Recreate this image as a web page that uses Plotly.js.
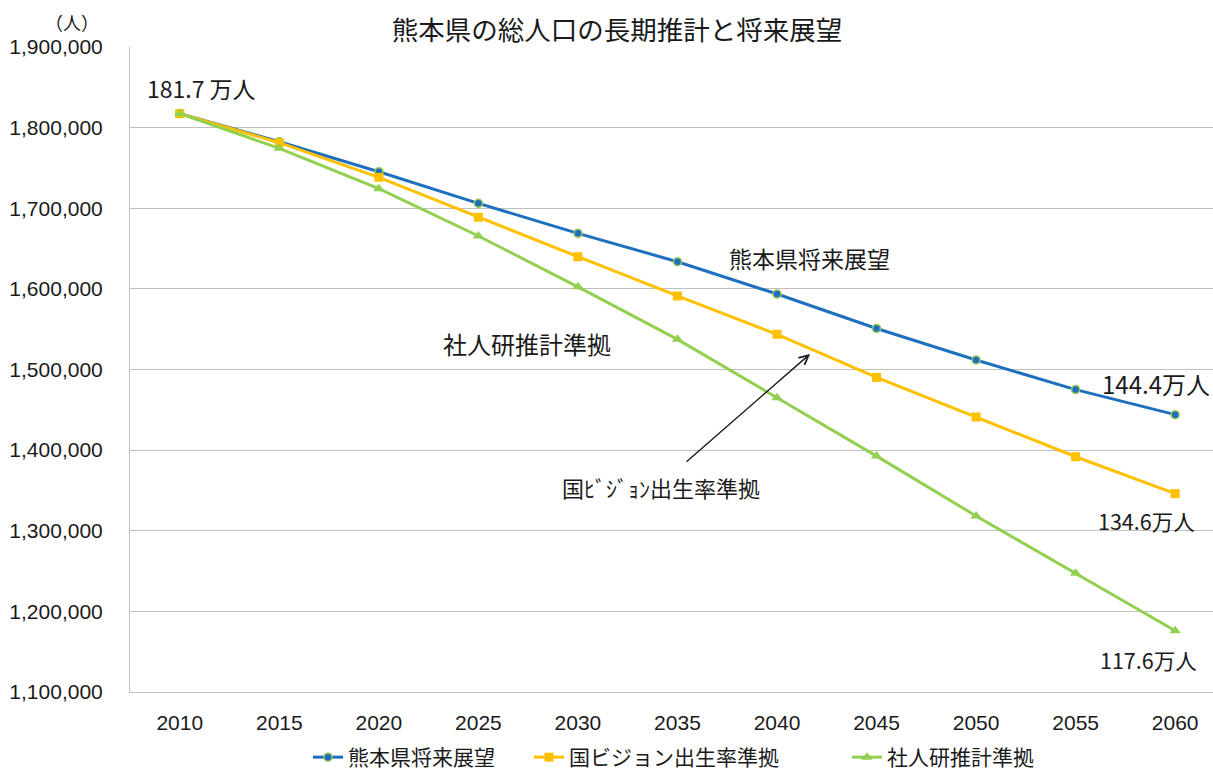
<!DOCTYPE html>
<html>
<head>
<meta charset="utf-8">
<script src="https://cdn.plot.ly/plotly-3.0.1.min.js"></script>
<style>html,body{margin:0;padding:0;background:#fff;}#chart{width:1213px;height:771px;}</style>
</head>
<body>
<div id="chart"></div>
<script>
// ---- data ----
const years = [2010, 2015, 2020, 2025, 2030, 2035, 2040, 2045, 2050, 2055, 2060];
const seriesNames = ["熊本県将来展望", "国ビジョン出生率準拠", "社人研推計準拠"];
const prefVision = [1817426, 1782500, 1745300, 1706100, 1668900, 1633700, 1593600, 1550900, 1511800, 1475100, 1444000];
const natVision = [1817426, 1781300, 1738400, 1688800, 1639900, 1591200, 1543600, 1490200, 1441100, 1391800, 1346000];
const ipssBased = [1817426, 1774300, 1724300, 1665600, 1602500, 1537400, 1465000, 1392600, 1318300, 1247200, 1176000];
const yTicks = [1100000, 1200000, 1300000, 1400000, 1500000, 1600000, 1700000, 1800000, 1900000];
const titleText = "熊本県の総人口の長期推計と将来展望";
const unitText = "（人）";
const startLabel = "181.7 万人";
const endLabels = ["144.4万人", "134.6万人", "117.6万人"];
const lineLabels = ["熊本県将来展望", "社人研推計準拠", "国ﾋﾞｼﾞｮﾝ出生率準拠"];

// ---- layout helpers (pixel -> paper) ----
const L = 130, T = 47, W = 1083, H = 645;
const px = x => (x - L) / W;
const py = y => (T + H - y) / H;
const FONT = "Liberation Sans, Noto Sans CJK JP, sans-serif";
const CJK = "Noto Sans CJK JP, Liberation Sans, sans-serif";
const TXT = "#1a1a1a";

const traces = [
  {x: years, y: prefVision, name: seriesNames[0], mode: "lines+markers", legend: "legend",
   line: {color: "#1f6fbf", width: 3},
   marker: {symbol: "circle", size: 8, color: "#1f6fbf", line: {color: "#9cc65a", width: 1.5}}},
  {x: years, y: natVision, name: seriesNames[1], mode: "lines+markers", legend: "legend2",
   line: {color: "#ffc000", width: 3},
   marker: {symbol: "square", size: 9, color: "#ffc000"}},
  {x: years, y: ipssBased, name: seriesNames[2], mode: "lines+markers", legend: "legend3",
   line: {color: "#92d050", width: 3},
   marker: {symbol: "triangle-up", size: 10, color: "#92d050"}}
];

const ann = (x, y, text, size, opts) => Object.assign({
  xref: "paper", yref: "paper", x: px(x), y: py(y), text: text, showarrow: false,
  xanchor: "center", yanchor: "middle", font: {family: CJK, size: size, color: TXT}
}, opts || {});

const leg = x => ({orientation: "h", x: px(x), xanchor: "left", y: py(737), yanchor: "top",
  font: {family: CJK, size: 21, color: TXT}, bgcolor: "rgba(0,0,0,0)", borderwidth: 0});

const layout = {
  width: 1213, height: 771,
  margin: {l: L, r: 0, t: T, b: 771 - T - H, pad: 0, autoexpand: false},
  paper_bgcolor: "#fff", plot_bgcolor: "#fff",
  title: {text: titleText, x: 617 / 1213, xanchor: "center", y: 1 - 31 / 771, yanchor: "middle",
          xref: "container", yref: "container",
          font: {family: CJK, size: 26.5, color: TXT}},
  xaxis: {range: [2007.5, 2061.9], tickvals: years, ticktext: years.map(String),
          showgrid: false, zeroline: false, showline: true, linecolor: "#bfbfbf", linewidth: 1,
          ticks: "", ticklabelstandoff: 12, fixedrange: true,
          tickfont: {family: FONT, size: 21, color: TXT}},
  yaxis: {range: [1100000, 1900000], tickvals: yTicks, tickformat: ",d",
          showgrid: true, gridcolor: "#bfbfbf", gridwidth: 1, zeroline: false,
          showline: true, linecolor: "#bfbfbf", linewidth: 1,
          ticks: "", ticklabelstandoff: 22, fixedrange: true,
          tickfont: {family: FONT, size: 21, color: TXT}},
  showlegend: true,
  legend: leg(308),
  legend2: leg(529),
  legend3: leg(847),
  annotations: [
    ann(72, 22, unitText, 18),
    ann(201, 88, startLabel, 23),
    ann(809, 258, lineLabels[0], 23),
    ann(527, 343, lineLabels[1], 24),
    ann(661, 487, lineLabels[2], 22),
    ann(1156, 384, endLabels[0], 24),
    ann(1146, 520, endLabels[1], 21.5),
    ann(1148, 659, endLabels[2], 21.5),
    {xref: "paper", yref: "paper", x: px(810), y: py(354), ax: 685 - 810, ay: 463 - 354,
     axref: "pixel", ayref: "pixel", text: "", showarrow: true, arrowhead: 5, arrowsize: 1.3,
     arrowwidth: 1.4, arrowcolor: "#1a1a1a"}
  ]
};

Plotly.newPlot("chart", traces, layout, {displayModeBar: false, staticPlot: true});
</script>
</body>
</html>
